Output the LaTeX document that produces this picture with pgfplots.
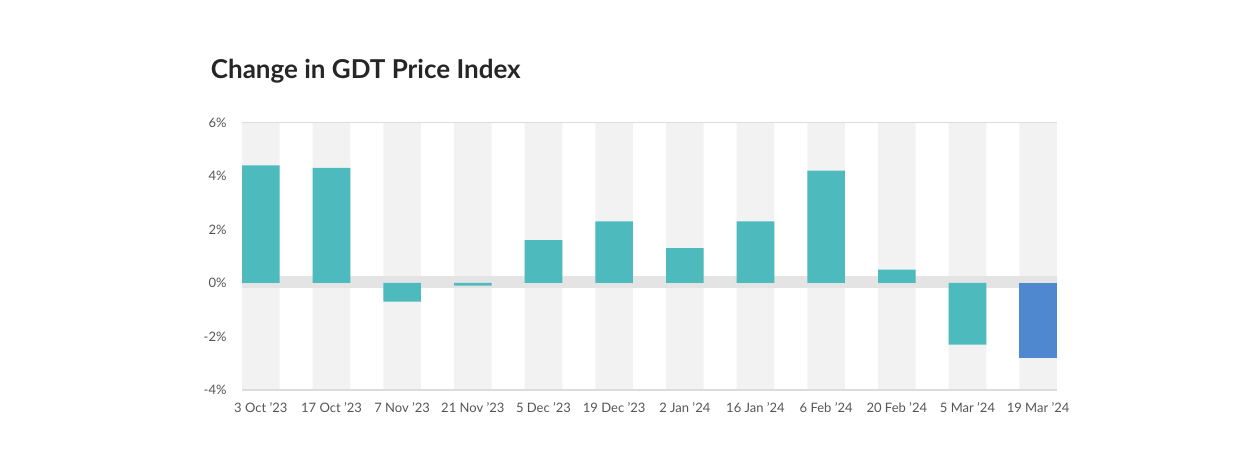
\documentclass[border=0pt]{standalone}
\usepackage{fontspec}
\setmainfont{Lato}
\usepackage{pgfplots}
\pgfplotsset{compat=1.18}
\definecolor{teal1}{HTML}{4DBBBD}
\definecolor{blue1}{HTML}{5088D0}
\definecolor{colgray}{HTML}{F2F2F2}
\definecolor{bandgray}{HTML}{E4E4E4}
\definecolor{linegray}{HTML}{DCDCDC}
\definecolor{labgray}{HTML}{555555}
\begin{document}
\begin{tikzpicture}
\useasboundingbox (0,0) rectangle (1250pt,450pt);
\node[anchor=base west, font=\fontsize{26}{28}\selectfont\bfseries, text=black!85, inner sep=0pt] at (210.7pt,371.7pt) {Change in GDT Price Index};
\begin{axis}[
  at={(242pt,60pt)}, anchor=south west,
  scale only axis, width=815pt, height=267.5pt,
  xmin=-0.2665, xmax=11.2665, ymin=-4, ymax=6,
  xtick={0,...,11},
  xticklabels={3 Oct '23, 17 Oct '23, 7 Nov '23, 21 Nov '23, 5 Dec '23, 19 Dec '23, 2 Jan '24, 16 Jan '24, 6 Feb '24, 20 Feb '24, 5 Mar '24, 19 Mar '24},
  ytick={-4,-2,0,2,4,6},
  yticklabels={-4\%,-2\%,0\%,2\%,4\%,6\%},
  major tick length=0pt,
  axis on top,
  separate axis lines,
  y axis line style={draw=none},
  x axis line style={draw=linegray, line width=1.5pt},
  ticklabel style={font=\fontsize{13}{15}\selectfont, text=labgray},
  yticklabel style={xshift=-12pt},
  xticklabel style={yshift=-9pt},
  clip=true,
]
% background columns
\addplot[ybar, bar width=37.6pt, bar shift=0pt, fill=colgray, draw=none]
  coordinates {(0,6)(1,6)(2,6)(3,6)(4,6)(5,6)(6,6)(7,6)(8,6)(9,6)(10,6)(11,6)};
\addplot[ybar, bar width=37.6pt, bar shift=0pt, fill=colgray, draw=none]
  coordinates {(0,-4)(1,-4)(2,-4)(3,-4)(4,-4)(5,-4)(6,-4)(7,-4)(8,-4)(9,-4)(10,-4)(11,-4)};
% zero band
\addplot[draw=none, fill=bandgray]
  coordinates {(-0.3,-0.19)(11.3,-0.19)(11.3,0.26)(-0.3,0.26)} -- cycle;
% data
\addplot[ybar, bar width=37.6pt, bar shift=0pt, fill=teal1, draw=none]
  coordinates {(0,4.4)(1,4.3)(2,-0.7)(3,-0.1)(4,1.6)(5,2.3)(6,1.3)(7,2.3)(8,4.2)(9,0.5)(10,-2.3)};
\addplot[ybar, bar width=37.6pt, bar shift=0pt, fill=blue1, draw=none]
  coordinates {(11,-2.8)};
\end{axis}
\end{tikzpicture}
\end{document}
